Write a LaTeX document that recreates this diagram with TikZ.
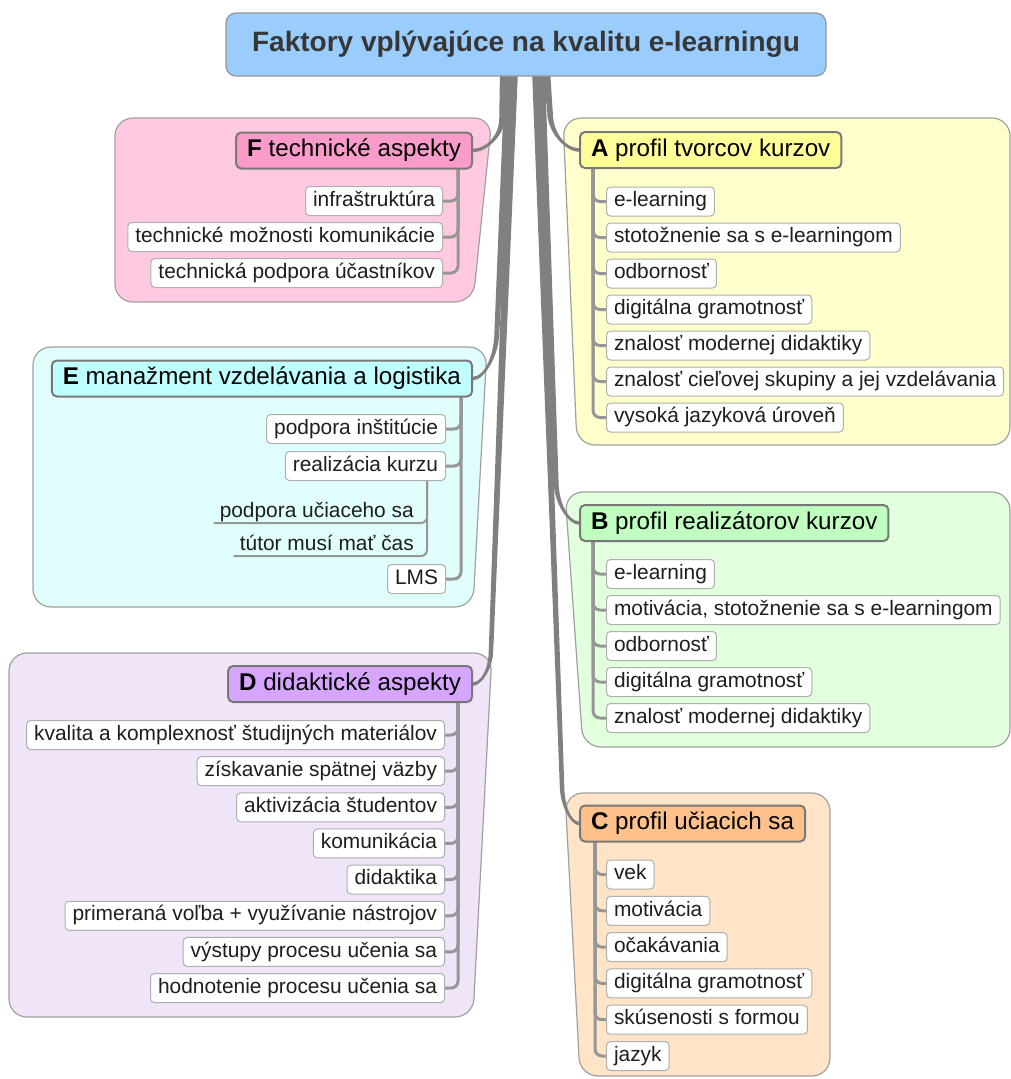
\documentclass[tikz,border=0pt]{standalone}
\usepackage{fontspec}
\setmainfont{Liberation Sans}
\usetikzlibrary{calc}

\definecolor{rootfill}{RGB}{155,204,254}
\definecolor{rootline}{RGB}{150,150,150}
\definecolor{titletext}{RGB}{55,55,55}
\definecolor{trunkgray}{RGB}{128,128,128}
\definecolor{stemgray}{RGB}{150,150,150}
\definecolor{grpline}{RGB}{160,160,160}
\definecolor{catline}{RGB}{120,120,120}
\definecolor{leafline}{RGB}{175,175,175}
\definecolor{leaftext}{RGB}{30,30,30}
\definecolor{grpF}{RGB}{255,202,224}
\definecolor{catF}{RGB}{250,155,201}
\definecolor{grpE}{RGB}{224,255,252}
\definecolor{catE}{RGB}{192,255,255}
\definecolor{grpD}{RGB}{240,228,248}
\definecolor{catD}{RGB}{214,166,255}
\definecolor{grpA}{RGB}{255,255,204}
\definecolor{catA}{RGB}{255,255,153}
\definecolor{grpB}{RGB}{226,255,222}
\definecolor{catB}{RGB}{192,255,192}
\definecolor{grpC}{RGB}{255,228,200}
\definecolor{catC}{RGB}{255,193,140}

\newcommand\leaffont{\fontsize{20.9}{24}\selectfont}
\newcommand\catfont{\fontsize{24.2}{28}\selectfont}
\newcommand\titlefont{\fontsize{28}{32}\selectfont\bfseries}

\pgfdeclarelayer{groups}
\pgfdeclarelayer{links}
\pgfsetlayers{groups,links,main}

% tapered branch: #1 start, #2 bend point, #3 end anchor,
% #4 start width, #5 width at bend, #6 end width, #7 side (-1 left, +1 right)
\newcommand\limb[7]{%
  \fill[trunkgray] let \p1=(#1), \p2=(#2), \p3=(#3) in
    ({\x1+(#7)*(#4)*0.5pt}, \y1) -- ({\x2+(#7)*(#5)*0.5pt}, \y2)
    .. controls ({\x2+(#7)*(#5)*0.5pt}, {\y2+0.55*(\y3-\y2)}) and ({\x3+0.45*(\x2-\x3)}, {\y3+(#6)*0.5pt}) ..
    (\x3, {\y3+(#6)*0.5pt}) -- (\x3, {\y3-(#6)*0.5pt})
    .. controls ({\x3+0.45*(\x2-\x3)}, {\y3-(#6)*0.5pt}) and ({\x2-(#7)*(#5)*0.5pt}, {\y2+0.55*(\y3-\y2)}) ..
    ({\x2-(#7)*(#5)*0.5pt}, \y2) -- ({\x1-(#7)*(#4)*0.5pt}, \y1) -- cycle;
}

\tikzset{
  rootbox/.style={draw=rootline, fill=rootfill, line width=1.2pt, rounded corners=10pt,
    minimum width=600pt, minimum height=63pt, inner sep=0pt, font=\titlefont, text=titletext,
    text height=20.5pt, text depth=6pt},
  catbox/.style={draw=catline, line width=2pt, rounded corners=5pt, inner xsep=11pt, inner ysep=0pt,
    minimum height=36pt, font=\catfont, text=black, text height=17.5pt, text depth=5pt},
  leaf/.style={draw=leafline, fill=white, line width=1pt, rounded corners=4pt, inner xsep=7.5pt,
    inner ysep=0pt, minimum height=29pt, font=\leaffont, text=leaftext, text height=14.8pt, text depth=4.4pt},
  uleaf/.style={inner xsep=6pt, inner ysep=0pt, minimum height=22pt, font=\leaffont, text=leaftext,
    text height=14.8pt, text depth=4.4pt},
  stem/.style={draw=stemgray, line width=3pt, rounded corners=7pt},
  substem/.style={draw=stemgray, line width=2pt, rounded corners=6pt},
  group/.style={draw=grpline, line width=1.2pt, rounded corners=18pt},
}

\begin{document}
\begin{tikzpicture}[x=1pt, y=-1pt]
\useasboundingbox (0,0) rectangle (1011,1079);

% ---------- central topic ----------
\node[rootbox] (root) at (526,44.5) {Faktory vplývajúce na kvalitu e-learningu};

% ---------- main topics ----------
\node[catbox, fill=catF, anchor=east] (F) at (473,150.5) {\textbf{F} technické aspekty};
\node[catbox, fill=catE, anchor=east] (E) at (473,378.5) {\textbf{E} manažment vzdelávania a logistika};
\node[catbox, fill=catD, anchor=east] (D) at (473,684) {\textbf{D} didaktické aspekty};
\node[catbox, fill=catA, anchor=west] (A) at (579,150) {\textbf{A} profil tvorcov kurzov};
\node[catbox, fill=catB, anchor=west] (B) at (579,523) {\textbf{B} profil realizátorov kurzov};
\node[catbox, fill=catC, anchor=west] (C) at (579,823.5) {\textbf{C} profil učiacich sa};

% ---------- subtopics ----------
\foreach \t [count=\i] in {infraštruktúra, technické možnosti komunikácie, technická podpora účastníkov}
  \node[leaf, anchor=east] (f\i) at (443,{201+36*(\i-1)}) {\t};

\node[leaf, anchor=east] (e1) at (446,429) {podpora inštitúcie};
\node[leaf, anchor=east] (e2) at (446,466) {realizácia kurzu};
\node[uleaf, anchor=south east] (e21) at (420,523) {podpora učiaceho sa};
\node[uleaf, anchor=south east] (e22) at (420,556) {tútor musí mať čas};
\node[leaf, anchor=east] (e3) at (446,579) {LMS};

\foreach \t [count=\i] in {kvalita a komplexnosť študijných materiálov, získavanie spätnej väzby,
    aktivizácia študentov, komunikácia, didaktika, primeraná voľba + využívanie nástrojov,
    výstupy procesu učenia sa, hodnotenie procesu učenia sa}
  \node[leaf, anchor=east] (d\i) at (445,{735+36.15*(\i-1)}) {\t};

\foreach \t [count=\i] in {e-learning, stotožnenie sa s e-learningom, odbornosť, digitálna gramotnosť,
    znalosť modernej didaktiky, znalosť cieľovej skupiny a jej vzdelávania, vysoká jazyková úroveň}
  \node[leaf, anchor=west] (a\i) at (606,{201.5+36*(\i-1)}) {\t};

\foreach \t [count=\i] in {e-learning, {motivácia, stotožnenie sa s e-learningom}, odbornosť,
    digitálna gramotnosť, znalosť modernej didaktiky}
  \node[leaf, anchor=west] (b\i) at (606,{574+36*(\i-1)}) {\t};

\foreach \t [count=\i] in {vek, motivácia, očakávania, digitálna gramotnosť, skúsenosti s formou, jazyk}
  \node[leaf, anchor=west] (c\i) at (606,{874.5+36.3*(\i-1)}) {\t};

% ---------- topic backgrounds ----------
\begin{pgfonlayer}{groups}
  \path[group, fill=grpF] (115,118) -- (492,118) -- (473,302) -- (115,302) -- cycle;
  \path[group, fill=grpE] (33,347) -- (487,347) -- (473,607) -- (33,607) -- cycle;
  \path[group, fill=grpD] (9,653) -- (492,653) -- (473,1017) -- (9,1017) -- cycle;
  \path[group, fill=grpA] (563,118) -- (1010,118) -- (1010,445) -- (577,445) -- cycle;
  \path[group, fill=grpB] (565,492) -- (1010,492) -- (1010,747) -- (583,747) -- cycle;
  \path[group, fill=grpC] (565,793) -- (830,793) -- (830,1076) -- (580,1076) -- cycle;
\end{pgfonlayer}

% ---------- branches and stems ----------
\begin{pgfonlayer}{links}
  \coordinate (sF) at (503.5,70);  \coordinate (mF) at (502,118);
  \coordinate (sE) at (509,70);    \coordinate (mE) at (497,330);
  \coordinate (sD) at (513.5,70);  \coordinate (mD) at (491,650);
  \coordinate (sC) at (536,70);    \coordinate (mC) at (562,785);
  \coordinate (sB) at (541,70);    \coordinate (mB) at (556,480);
  \coordinate (sA) at (546.5,70);  \coordinate (mA) at (550,112);

  \limb{sF}{mF}{F.east}{7}{5.5}{3.5}{-1}
  \limb{sE}{mE}{E.east}{8}{5}{3.5}{-1}
  \limb{sD}{mD}{D.east}{9}{4.5}{3.5}{-1}
  \limb{sA}{mA}{A.west}{7}{5.5}{3.5}{1}
  \limb{sB}{mB}{B.west}{8}{5}{3.5}{1}
  \limb{sC}{mC}{C.west}{8}{4.5}{3.5}{1}

  \coordinate (stF) at (F.south -| 458,0);
  \foreach \i in {1,2,3} \draw[stem] (stF) |- (f\i.east);
  \coordinate (stE) at (E.south -| 461,0);
  \foreach \n in {e1,e2,e3} \draw[stem] (stE) |- (\n.east);
  \coordinate (stE2) at (e2.south -| 427,0);
  \foreach \n in {e21,e22} \draw[substem] (stE2) |- (\n.south west);
  \coordinate (stD) at (D.south -| 458,0);
  \foreach \i in {1,...,8} \draw[stem] (stD) |- (d\i.east);
  \coordinate (stA) at (A.south -| 593,0);
  \foreach \i in {1,...,7} \draw[stem] (stA) |- (a\i.west);
  \coordinate (stB) at (B.south -| 593,0);
  \foreach \i in {1,...,5} \draw[stem] (stB) |- (b\i.west);
  \coordinate (stC) at (C.south -| 595,0);
  \foreach \i in {1,...,6} \draw[stem] (stC) |- (c\i.west);
\end{pgfonlayer}
\end{tikzpicture}
\end{document}
